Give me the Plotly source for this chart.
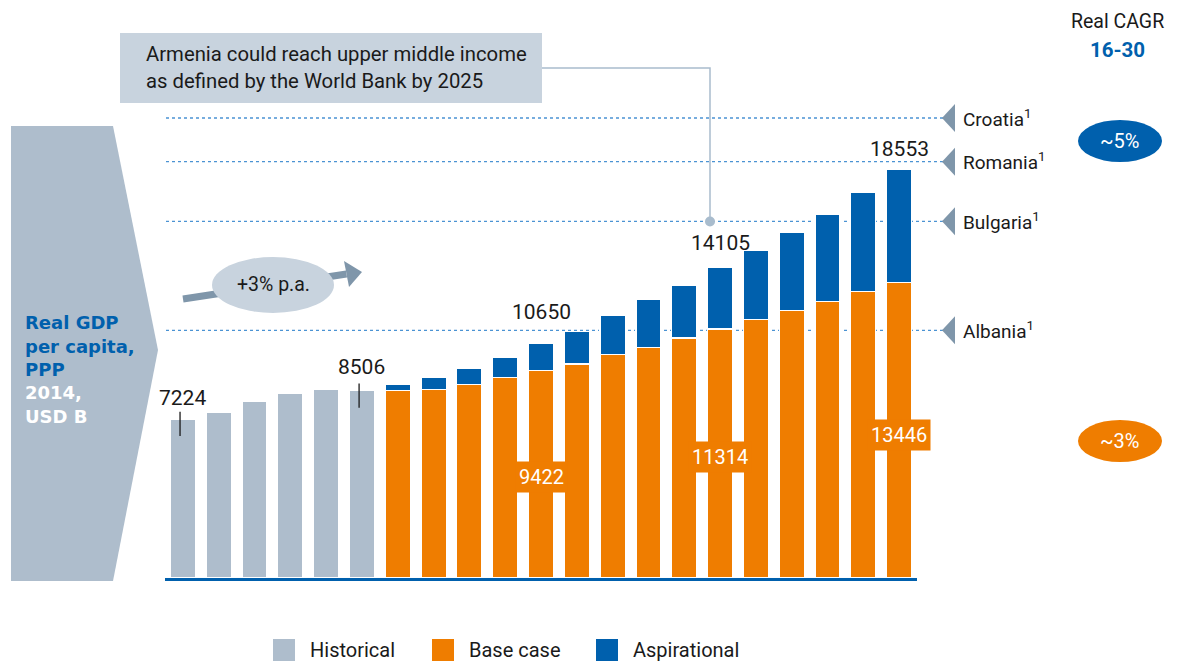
import plotly.graph_objects as go

# ---------------- data ----------------
years_hist = [str(y) for y in range(2010, 2016)]
years_fc = [str(y) for y in range(2016, 2031)]
historical = [7224, 7519, 8033, 8369, 8564, 8506]
base_case = [8520, 8578, 8791, 9096, 9422, 9732, 10168, 10472, 10913, 11314,
             11745, 12154, 12576, 13017, 13446]
aspirational_total = [8791, 9109, 9518, 10050, 10650, 11200, 11926, 12685, 13303,
                      14105, 14880, 15711, 16547, 17515, 18553]
aspirational_extra = [a - b for a, b in zip(aspirational_total, base_case)]
benchmarks = ["Croatia", "Romania", "Bulgaria", "Albania"]
benchmark_values = [20909, 18923, 16211, 11259]
total_label_years = ["2010", "2015", "2020", "2025", "2030"]
total_label_values = [7224, 8506, 10650, 14105, 18553]
base_label_years = ["2020", "2025", "2030"]
base_label_values = [9422, 11314, 13446]
cagr_labels = ["~5%", "~3%"]

all_years = years_hist + years_fc

# ---------------- style ----------------
GREY = "#aebdcc"
ORANGE = "#ef7d00"
BLUE = "#0060ad"
SLATE = "#7f96aa"
PALE = "#c8d3de"
FONT = "Roboto"
TXT = "#1a1a1a"

W, H = 1177, 663
L, R, T, B = 165, 917, 28, 578
YMAX = 25000


def px(x):
    return (x - L) / (R - L)


def py(y):
    return (B - y) / (B - T)


def xi(year):
    return all_years.index(year)


fig = go.Figure()
fig.add_trace(go.Bar(x=years_hist, y=historical, name="Historical",
                     marker=dict(color=GREY, line=dict(color="white", width=1.2))))
fig.add_trace(go.Bar(x=years_fc, y=base_case, name="Base case",
                     marker=dict(color=ORANGE, line=dict(color="white", width=1.2))))
fig.add_trace(go.Bar(x=years_fc, y=aspirational_extra, name="Aspirational",
                     marker=dict(color=BLUE, line=dict(color="white", width=1.2))))

shapes = []
ann = []


def text(x, y, s, size=19, color=TXT, xanchor="center", family=FONT, **kw):
    d = dict(xref="paper", yref="paper", x=px(x), y=py(y), text=s, showarrow=False,
             xanchor=xanchor, yanchor="middle", font=dict(family=family, size=size, color=color))
    d.update(kw)
    ann.append(d)


# benchmark reference lines with triangles and labels
for name, v in zip(benchmarks, benchmark_values):
    shapes.append(dict(type="line", xref="paper", yref="y", x0=px(166), x1=px(943),
                       y0=v, y1=v, line=dict(color="#4b93d3", width=1.3, dash="dot"),
                       layer="below"))
    hh = 14 / ((B - T) / YMAX)
    shapes.append(dict(type="path", xref="paper", yref="y",
                       path=f"M {px(942)} {v} L {px(955)} {v + hh} L {px(955)} {v - hh} Z",
                       fillcolor=SLATE, line=dict(width=0)))
    ann.append(dict(xref="paper", yref="y", x=px(961), y=v, xanchor="left", yanchor="middle",
                    text=f"{name}<sup>1</sup>", showarrow=False,
                    font=dict(family=FONT, size=19, color=TXT)))

# left chevron panel
shapes.append(dict(type="path", xref="paper", yref="paper",
                   path=f"M {px(11)} {py(126)} L {px(113)} {py(126)} L {px(158)} {py(350)} "
                        f"L {px(113)} {py(581)} L {px(11)} {py(581)} Z",
                   fillcolor=GREY, line=dict(width=0)))
for s, yy, col in zip(["Real GDP", "per capita,", "PPP", "2014,", "USD B"],
                      [322, 346, 369.5, 393, 416.5], [BLUE, BLUE, BLUE, "white", "white"]):
    text(23, yy, f"<b>{s}</b>", size=18, color=col, xanchor="left", family="DejaVu Sans")

# callout box
shapes.append(dict(type="rect", xref="paper", yref="paper", x0=px(120), x1=px(542),
                   y0=py(103), y1=py(33), fillcolor=PALE, line=dict(width=0)))
text(144, 54, "Armenia could reach upper middle income", size=20.3, xanchor="left")
text(144, 81, "as defined by the World Bank by 2025", size=20.3, xanchor="left")
shapes.append(dict(type="path", xref="paper", yref="paper",
                   path=f"M {px(542)} {py(68)} L {px(710)} {py(68)} L {px(710)} {py(221)}",
                   line=dict(color="#a9bccd", width=1.5)))
shapes.append(dict(type="circle", xref="paper", yref="paper", x0=px(705), x1=px(715),
                   y0=py(226.5), y1=py(216.5), fillcolor="#a9bccd", line=dict(width=0)))

# +3% p.a. arrow
shapes.append(dict(type="line", xref="paper", yref="paper", x0=px(183), y0=py(299),
                   x1=px(346.5), y1=py(274), line=dict(color=SLATE, width=7)))
shapes.append(dict(type="path", xref="paper", yref="paper",
                   path=f"M {px(362)} {py(272)} L {px(344)} {py(261)} L {px(349)} {py(287)} Z",
                   fillcolor=SLATE, line=dict(width=0)))
shapes.append(dict(type="circle", xref="paper", yref="paper", x0=px(212), x1=px(334),
                   y0=py(313), y1=py(257), fillcolor=PALE, line=dict(width=0)))
text(273, 284, "+3% p.a.", size=19.5)

# total value labels
label_shift = {"2010": 21, "2015": 24, "2020": 32, "2025": 25, "2030": 21}
for yr, v in zip(total_label_years, total_label_values):
    ann.append(dict(xref="x", yref="y", x=xi(yr), y=v, yshift=label_shift[yr],
                    showarrow=False, text=str(v), xanchor="center", yanchor="middle",
                    font=dict(family=FONT, size=21, color=TXT)))
for yr, v in zip(["2010", "2015"], [historical[0], historical[-1]]):
    shapes.append(dict(type="line", xref="x", yref="y", x0=xi(yr) - 0.08, x1=xi(yr) - 0.08,
                       y0=v - 770, y1=v + 330, line=dict(color=TXT, width=1.3)))

# base case labels inside bars
for yr, v in zip(base_label_years, base_label_values):
    ann.append(dict(xref="x", yref="y", x=xi(yr), y=v * 0.485, showarrow=False, text=str(v),
                    bgcolor=ORANGE, xanchor="center", yanchor="middle", borderpad=3,
                    font=dict(family=FONT, size=20, color="white")))

# CAGR header and bubbles
text(1117, 22, "Real CAGR", size=19.5)
text(1117, 50, "<b>16-30</b>", size=20.5, color=BLUE)
for lab, col, cy in zip(cagr_labels, [BLUE, ORANGE], [141, 441]):
    shapes.append(dict(type="circle", xref="paper", yref="paper", x0=px(1078), x1=px(1162),
                       y0=py(cy + 21), y1=py(cy - 21), fillcolor=col, line=dict(width=0)))
    text(1120, cy, lab, size=20, color="white")

# manual legend
for nm, col, x0 in zip(["Historical", "Base case", "Aspirational"], [GREY, ORANGE, BLUE],
                       [273, 432, 596]):
    shapes.append(dict(type="rect", xref="paper", yref="paper", x0=px(x0), x1=px(x0 + 22),
                       y0=py(661), y1=py(639), fillcolor=col, line=dict(width=0)))
    text(x0 + 35, 650, nm, size=20, xanchor="left")

fig.update_layout(
    width=W, height=H,
    margin=dict(l=L, r=W - R, t=T, b=H - B),
    barmode="stack", bargap=0.3,
    showlegend=False,
    plot_bgcolor="rgba(0,0,0,0)", paper_bgcolor="white",
    shapes=shapes, annotations=ann,
    font=dict(family=FONT),
    xaxis=dict(type="category", showticklabels=False, showgrid=False, zeroline=False,
               ticks="", showline=True, linecolor=BLUE, linewidth=3,
               categoryorder="array", categoryarray=all_years,
               range=[-0.5, 20.5]),
    yaxis=dict(range=[0, YMAX], visible=False, showgrid=False, zeroline=False),
)

fig.write_html("out.html", config={"displayModeBar": False},
               post_script="document.body.style.margin='0';")
